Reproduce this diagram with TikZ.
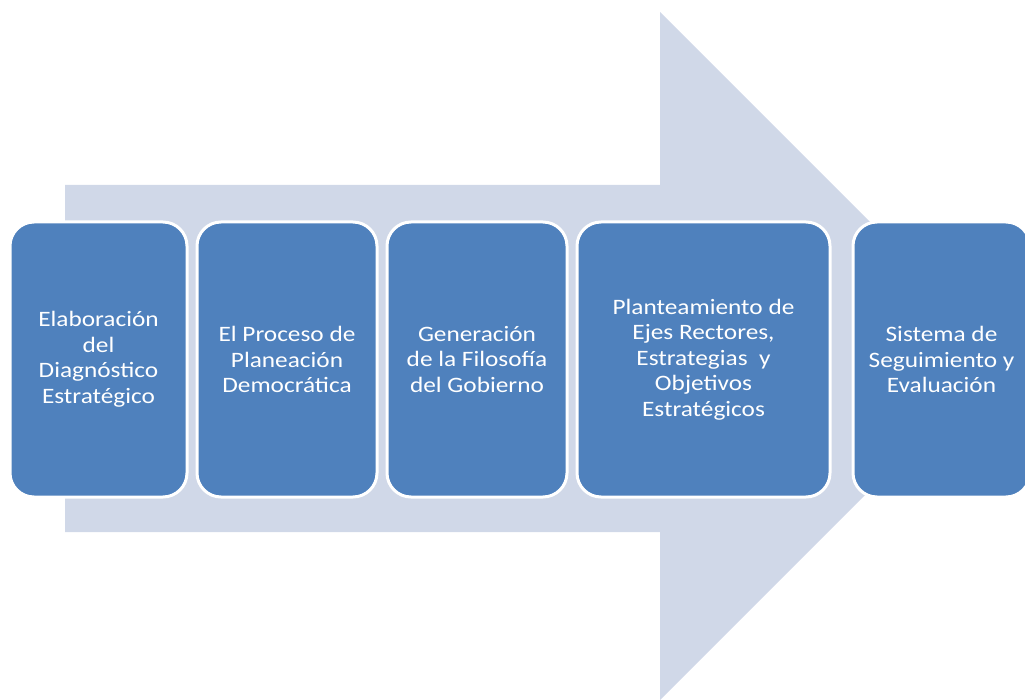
\documentclass[tikz,border=0pt]{standalone}
\usepackage{fontspec}
\setmainfont{Carlito}[FakeStretch=1.15]
\definecolor{arrowfill}{HTML}{D0D8E8}
\definecolor{stagefill}{HTML}{4F81BD}
\tikzset{
  stage/.style = {draw = white, line width = 3pt, fill = stagefill, rounded corners = 24pt,
    text = white, align = center, minimum height = 275pt, inner sep = 0pt,
    font = \fontsize{22}{25.5}\selectfont}
}
\begin{document}
\begin{tikzpicture}[x = 1pt, y = -1pt]
      \useasboundingbox (0,0) rectangle (1025,700);
      \clip (0,0) rectangle (1025,700);
      \fill [arrowfill] (65,185) -- (660,185) -- (660,12) -- (1004,356) -- (660,700) -- (660,532) -- (65,532) -- cycle;
      \node [stage, minimum width = 177pt] (diag) at (98.5,359.5) {Elaboración\\del\\Diagnóstico\\Estratégico};
      \node [stage, minimum width = 180pt] (proc) at (287,359.5) {El Proceso de\\Planeación\\Democrática};
      \node [stage, minimum width = 180pt] (filo) at (477,359.5) {Generación\\de la Filosofía\\del Gobierno};
      \node [stage, minimum width = 253pt] (ejes) at (703.5,359.5) {Planteamiento de\\Ejes Rectores,\\Estrategias~ y\\Objetivos\\Estratégicos};
      \node [stage, minimum width = 177pt] (segu) at (941.5,359.5) {Sistema de\\Seguimiento y\\Evaluación};
      \end{tikzpicture}
\end{document}
